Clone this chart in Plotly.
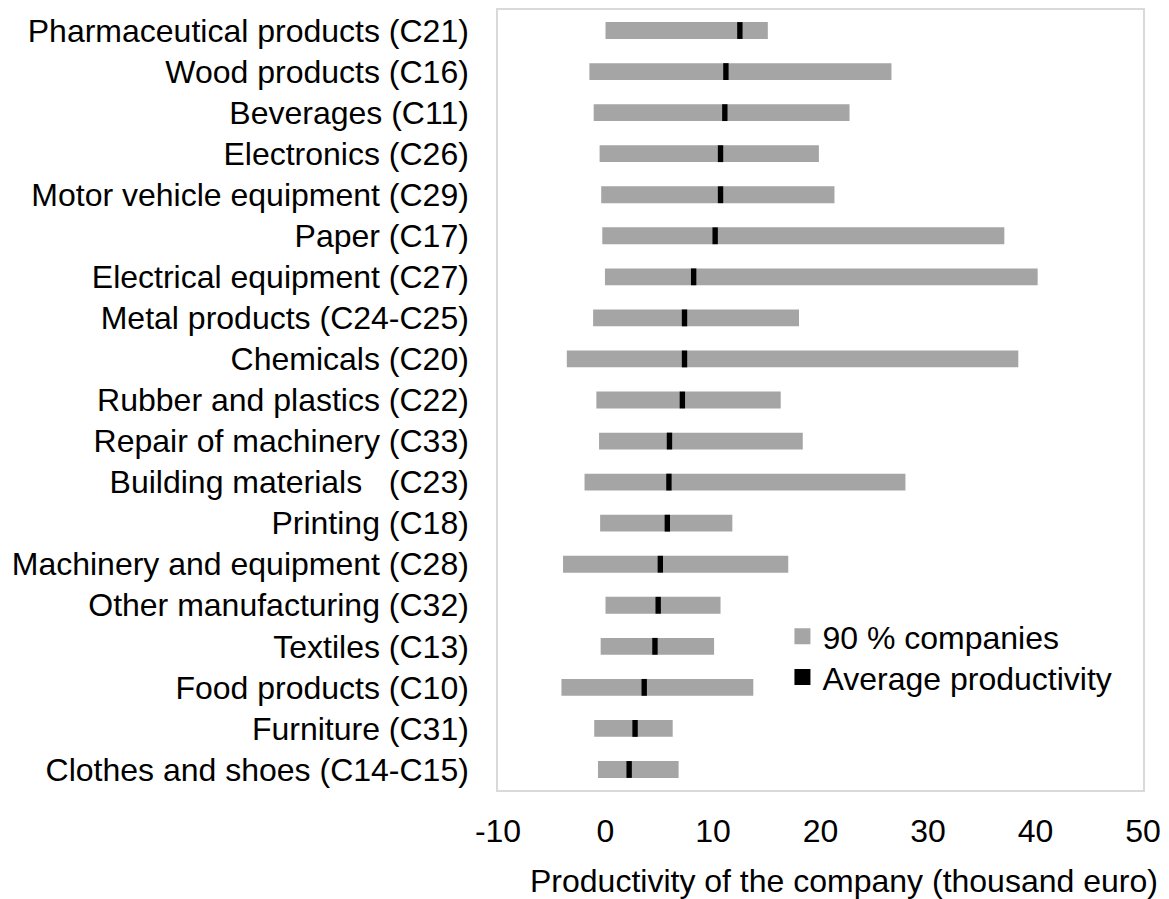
import plotly.graph_objects as go

categories = [
    "Pharmaceutical products (C21)",
    "Wood products (C16)",
    "Beverages (C11)",
    "Electronics (C26)",
    "Motor vehicle equipment (C29)",
    "Paper (C17)",
    "Electrical equipment (C27)",
    "Metal products (C24-C25)",
    "Chemicals (C20)",
    "Rubber and plastics (C22)",
    "Repair of machinery (C33)",
    "Building materials\u00a0\u00a0\u00a0(C23)",
    "Printing (C18)",
    "Machinery and equipment (C28)",
    "Other manufacturing (C32)",
    "Textiles (C13)",
    "Food products (C10)",
    "Furniture (C31)",
    "Clothes and shoes (C14-C15)",
]

low_5pct = [0.0, -1.5, -1.1, -0.55, -0.4, -0.3, -0.05, -1.15, -3.6, -0.85,
            -0.6, -1.95, -0.5, -3.95, 0.0, -0.45, -4.1, -1.05, -0.7]
high_95pct = [15.1, 26.6, 22.7, 19.85, 21.3, 37.1, 40.2, 18.0, 38.4, 16.3,
              18.35, 27.9, 11.8, 17.0, 10.7, 10.1, 13.75, 6.25, 6.8]
average = [12.5, 11.2, 11.1, 10.7, 10.7, 10.2, 8.2, 7.35, 7.35, 7.15,
           5.95, 5.9, 5.75, 5.1, 4.9, 4.6, 3.6, 2.75, 2.2]

x_ticks = [-10, 0, 10, 20, 30, 40, 50]
x_title = "Productivity of the company (thousand euro)"

FONT = "Arial, 'Liberation Sans', sans-serif"
FS = 32
GREY = "#A5A5A5"
MARK_W = 0.5  # visual width of the average marker (x units)

fig = go.Figure()

fig.add_trace(go.Bar(
    y=categories,
    x=[h - l for h, l in zip(high_95pct, low_5pct)],
    base=low_5pct,
    orientation="h",
    name="90 % companies",
    marker=dict(color=GREY, line=dict(width=0)),
    width=0.41,
    showlegend=False,
))

fig.add_trace(go.Bar(
    y=categories,
    x=[MARK_W] * len(average),
    base=[a - MARK_W / 2 for a in average],
    orientation="h",
    name="Average productivity",
    marker=dict(color="#000000", line=dict(width=0)),
    width=0.41,
    showlegend=False,
))

# legend entries (square swatches)
fig.add_trace(go.Scatter(
    x=[None], y=[None], mode="markers", name="90 % companies",
    marker=dict(symbol="square", size=16, color=GREY),
    legend="legend",
))
fig.add_trace(go.Scatter(
    x=[None], y=[None], mode="markers", name="Average productivity",
    marker=dict(symbol="square", size=16, color="#000000"),
    legend="legend2",
))

fig.add_annotation(
    text=x_title, xref="paper", yref="paper",
    x=0.537, y=-0.117, xanchor="center", yanchor="middle",
    showarrow=False, font=dict(family=FONT, size=FS, color="#000000"),
)

leg_common = dict(
    x=0.441, xanchor="left", yanchor="middle",
    bgcolor="rgba(0,0,0,0)",
    font=dict(family=FONT, size=FS, color="#000000"),
    itemwidth=30,
)

fig.update_layout(
    width=1161,
    height=891,
    barmode="overlay",
    plot_bgcolor="white",
    paper_bgcolor="white",
    font=dict(family=FONT, size=FS, color="#000000"),
    margin=dict(l=490, r=26, t=0, b=109),
    legend=dict(y=0.197, **leg_common),
    legend2=dict(y=0.1445, **leg_common),
    xaxis=dict(
        range=[-10, 50],
        tickvals=x_ticks,
        ticktext=[str(v) for v in x_ticks],
        showgrid=False,
        zeroline=False,
        showline=True,
        mirror=True,
        linecolor="#D9D9D9",
        linewidth=1.5,
        ticks="",
        ticklabelstandoff=12,
        tickfont=dict(family=FONT, size=FS),
    ),
    yaxis=dict(
        autorange="reversed",
        showgrid=False,
        zeroline=False,
        showline=True,
        mirror=True,
        linecolor="#D9D9D9",
        linewidth=1.5,
        ticks="",
        ticklabelstandoff=21,
        tickfont=dict(family=FONT, size=FS),
    ),
)

fig.write_html("out.html")
